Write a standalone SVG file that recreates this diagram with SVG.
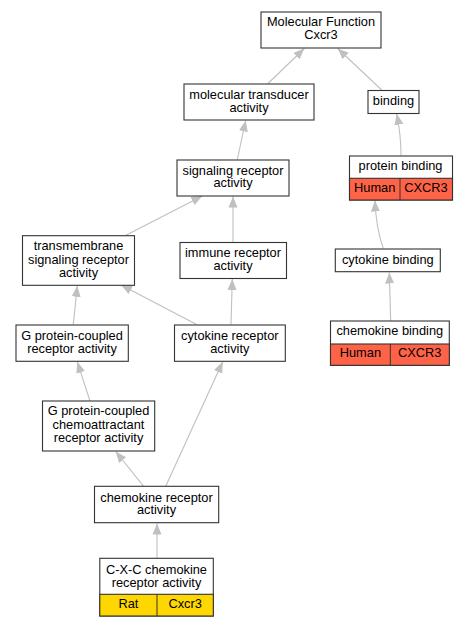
<svg xmlns="http://www.w3.org/2000/svg" width="467" height="627" viewBox="0 0 467 627">
<style>
.n rect{fill:#fff;stroke:#333;stroke-width:1.1}
.n rect.h{fill:#ff6347}
.n rect.r{fill:#ffd700}
.n line{stroke:#333;stroke-width:1}
text{font-family:"Liberation Sans",Arial,sans-serif;font-size:12.8px;fill:#000;text-anchor:middle}
#edges path{fill:none;stroke:#c0c0c0;stroke-width:1.1;marker-end:url(#ah)}
</style>
<defs>
<marker id="ah" markerUnits="userSpaceOnUse" markerWidth="12" markerHeight="10" refX="11" refY="4.5" orient="auto" viewBox="0 0 12 9">
<path d="M0,0 L11,4.5 L0,9 z" fill="#c0c0c0"/>
</marker>
</defs>
<rect width="467" height="627" fill="#fff"/>
<g id="edges">
<path d="M268,83.5 L304.3,48.5"/>
<path d="M381.7,90 L337.7,48.5"/>
<path d="M237.3,159.5 L245.7,120.5"/>
<path d="M401,155.5 Q401,135 396.7,113.8"/>
<path d="M125,235.7 L202.3,196"/>
<path d="M233,242.3 L233,196.5"/>
<path d="M383.3,248.5 Q376,228 375,200.5"/>
<path d="M73.3,324.5 L77.3,285.8"/>
<path d="M196.7,324.5 L121,285"/>
<path d="M231,324.5 L232.3,279"/>
<path d="M390.7,321 L389.3,272.5"/>
<path d="M90,401 L77.3,361.8"/>
<path d="M165.7,486.3 L222.7,361.8"/>
<path d="M143.7,486.3 L115.7,451.5"/>
<path d="M157,558 L157,523.5"/>
</g>
<g id="n_mf" class="n"><rect x="261" y="12" width="120" height="36"/><text x="321" y="26.2">Molecular Function</text><text x="321" y="39.2">Cxcr3</text></g>
<g id="n_mt" class="n"><rect x="184" y="84" width="130" height="36"/><text x="249" y="98.5">molecular transducer</text><text x="249" y="111.5">activity</text></g>
<g id="n_binding" class="n"><rect x="368" y="90.5" width="51" height="23"/><text x="393.5" y="104.8">binding</text></g>
<g id="n_sig" class="n"><rect x="177" y="160" width="112" height="36"/><text x="233" y="174.5">signaling receptor</text><text x="233" y="187.2">activity</text></g>
<g id="n_pb" class="n"><rect x="349.5" y="156" width="103" height="44"/><rect class="h" x="349.5" y="178.3" width="103" height="21.7"/><line x1="400" y1="178.3" x2="400" y2="200"/><text x="400.5" y="170.2">protein binding</text><text x="374.7" y="192.2">Human</text><text x="426" y="192.2">CXCR3</text></g>
<g id="n_tm" class="n"><rect x="22.5" y="235.7" width="112" height="49.6"/><text x="78.5" y="250.2">transmembrane</text><text x="78.5" y="263.5">signaling receptor</text><text x="78.5" y="277">activity</text></g>
<g id="n_imm" class="n"><rect x="180" y="242.5" width="106.5" height="36"/><text x="233" y="257.2">immune receptor</text><text x="233" y="270.2">activity</text></g>
<g id="n_cb" class="n"><rect x="335.3" y="249" width="105" height="22.7"/><text x="387.8" y="263.5">cytokine binding</text></g>
<g id="n_gpcr" class="n"><rect x="16" y="325" width="112.3" height="36.3"/><text x="72" y="339.5">G protein-coupled</text><text x="72" y="352.8">receptor activity</text></g>
<g id="n_cr" class="n"><rect x="174.5" y="325" width="110.8" height="36.3"/><text x="229.8" y="339.5">cytokine receptor</text><text x="229.8" y="352.8">activity</text></g>
<g id="n_chb" class="n"><rect x="330.5" y="321" width="118.8" height="44.3"/><rect class="h" x="330.5" y="344" width="118.8" height="21.3"/><line x1="390.3" y1="344" x2="390.3" y2="365.3"/><text x="389.8" y="335.2">chemokine binding</text><text x="360.4" y="357.2">Human</text><text x="419.8" y="357.2">CXCR3</text></g>
<g id="n_gca" class="n"><rect x="42.5" y="401" width="112.2" height="50"/><text x="98.5" y="415.2">G protein-coupled</text><text x="98.5" y="428.7">chemoattractant</text><text x="98.5" y="442.2">receptor activity</text></g>
<g id="n_chr" class="n"><rect x="94.5" y="486.3" width="124.2" height="36.4"/><text x="156.5" y="501.5">chemokine receptor</text><text x="156.5" y="514.2">activity</text></g>
<g id="n_cxc" class="n"><rect x="99.8" y="558.3" width="113.5" height="57.7"/><rect class="r" x="99.8" y="594.3" width="113.5" height="21.7"/><line x1="157" y1="594.3" x2="157" y2="616"/><text x="156.5" y="573.5">C-X-C chemokine</text><text x="156.5" y="586.5">receptor activity</text><text x="128.4" y="607.8">Rat</text><text x="185.2" y="607.8">Cxcr3</text></g>
</svg>
